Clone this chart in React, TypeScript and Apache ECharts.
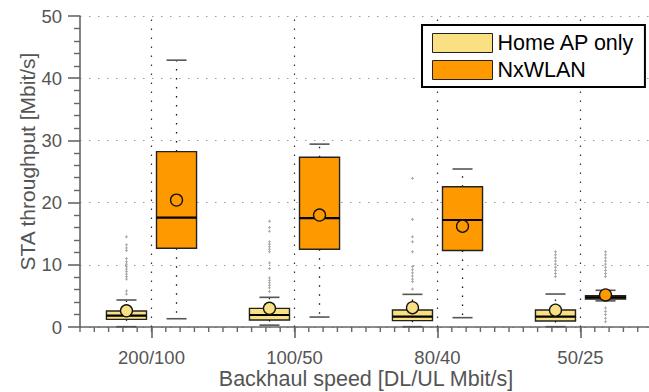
import React, { useEffect, useRef } from "react";
import * as echarts from "echarts";

const categories = ["200/100", "100/50", "80/40", "50/25"];
const seriesNames = ["Home AP only", "NxWLAN"];
const seriesColors = ["#f8e083", "#ff9900"];
const xTitle = "Backhaul speed [DL/UL Mbit/s]";
const yTitle = "STA throughput [Mbit/s]";

// [min, q1, median, q3, max, mean]
const homeStats = [
  [0.05, 1.23, 1.82, 2.57, 4.34, 2.6],
  [0.3, 1.13, 1.93, 3.0, 4.77, 3.0],
  [0.05, 1.02, 1.66, 2.73, 5.25, 3.1],
  [0.05, 0.96, 1.66, 2.73, 5.3, 2.7],
];
const nxStats = [
  [1.33, 12.65, 17.6, 28.2, 42.9, 20.4],
  [1.6, 12.5, 17.5, 27.3, 29.4, 18.0],
  [1.5, 12.3, 17.2, 22.55, 25.4, 16.2],
  [4.2, 4.5, 4.77, 5.03, 5.9, 5.15],
];
const homeOutliers = [
  [14.5, 13.2, 12.7, 12.3, 11.0, 10.5, 10.1, 9.7, 9.3, 8.9, 8.5, 8.1, 7.7, 5.8, 5.3],
  [17.0, 16.0, 15.4, 13.7, 13.3, 12.9, 12.5, 12.1, 10.3, 9.4, 7.9, 7.5, 7.1, 6.7, 6.3, 5.7],
  [23.9, 17.3, 14.5, 13.7, 12.1, 9.7, 9.2, 8.7, 8.2, 7.7, 7.3, 6.1],
  [12.1, 11.6, 11.1, 10.6, 10.1, 9.6, 9.1, 8.6, 8.1],
];
const nxOutliers = [
  [],
  [],
  [],
  [12.1, 11.6, 11.1, 10.6, 10.1, 9.6, 9.1, 8.6, 8.1, 3.05, 2.5, 2.0, 1.4, 0.85],
];
const yTicks = [0, 10, 20, 30, 40, 50];
const minorTicksPerCategory = 10;

const FONT = "'Liberation Sans', Arial, Helvetica, sans-serif";
const OFFSETS = [-0.175, 0.175];

function boxRenderer(offsetFrac: number, color: string) {
  return (params: any, api: any) => {
    const cat = api.value(0);
    const band = api.size([1, 0])[0];
    const cx = api.coord([cat, 0])[0] + offsetFrac * band;
    const y = (v: number) => api.coord([cat, v])[1];
    const w = band * 0.28;
    const cw = band * 0.14;
    const mn = api.value(1), q1 = api.value(2), md = api.value(3), q3 = api.value(4), mx = api.value(5), mean = api.value(6);
    const dotted = { stroke: "#111", lineWidth: 1.3, lineDash: [1.5, 7.5] };
    const cap = { stroke: "#555", lineWidth: 1.6 };
    return {
      type: "group",
      children: [
        { type: "line", shape: { x1: cx, y1: y(q3), x2: cx, y2: y(mx) }, style: dotted },
        { type: "line", shape: { x1: cx, y1: y(q1), x2: cx, y2: y(mn) }, style: dotted },
        { type: "line", shape: { x1: cx - cw / 2, y1: y(mx), x2: cx + cw / 2, y2: y(mx) }, style: cap },
        { type: "line", shape: { x1: cx - cw / 2, y1: y(mn), x2: cx + cw / 2, y2: y(mn) }, style: cap },
        {
          type: "rect",
          shape: { x: cx - w / 2, y: y(q3), width: w, height: y(q1) - y(q3) },
          style: { fill: color, stroke: "#222", lineWidth: 1.4 },
        },
        { type: "line", shape: { x1: cx - w / 2, y1: y(md), x2: cx + w / 2, y2: y(md) }, style: { stroke: "#000", lineWidth: 2.2 } },
        { type: "circle", shape: { cx: cx, cy: y(mean), r: 6 }, style: { fill: color, stroke: "#111", lineWidth: 1.3 } },
      ],
    };
  };
}

function outlierRenderer(params: any, api: any) {
  const cat = api.value(0);
  const s = api.value(2);
  const band = api.size([1, 0])[0];
  const p = api.coord([cat, api.value(1)]);
  const cx = p[0] + OFFSETS[s] * band;
  const cy = p[1];
  const st = { stroke: "#aaaaaa", lineWidth: 1 };
  return {
    type: "group",
    children: [
      { type: "line", shape: { x1: cx - 1.5, y1: cy, x2: cx + 1.5, y2: cy }, style: st },
      { type: "line", shape: { x1: cx, y1: cy - 1.5, x2: cx, y2: cy + 1.5 }, style: st },
    ],
  };
}

function minorTickRenderer(params: any, api: any) {
  const cat = api.value(0);
  const band = api.size([1, 0])[0];
  const p = api.coord([cat, api.value(1)]);
  const left = p[0] - band / 2;
  const children: any[] = [];
  const last = cat === categories.length - 1;
  const n = minorTicksPerCategory + (last ? 1 : 0);
  for (let k = 0; k < n; k++) {
    const x = left + (k * band) / minorTicksPerCategory;
    children.push({
      type: "line",
      shape: { x1: x, y1: p[1], x2: x, y2: p[1] + 5 },
      style: { stroke: "#666", lineWidth: 1.4 },
    });
  }
  return { type: "group", children };
}

export default function App() {
  const ref = useRef<HTMLDivElement>(null);
  useEffect(() => {
    if (!ref.current) return;
    const chart = echarts.init(ref.current, null, { renderer: "svg" });
    const statsList = [homeStats, nxStats];
    const outlierData: number[][] = [];
    [homeOutliers, nxOutliers].forEach((arr, s) =>
      arr.forEach((vals, i) => vals.forEach((v) => outlierData.push([i, v, s])))
    );
    const option: any = {
      animation: false,
      textStyle: { fontFamily: FONT },
      grid: { left: 80, top: 16, width: 572, height: 311, containLabel: false, outerBoundsMode: "none" },
      legend: {
        data: seriesNames.map((n, i) => ({
          name: n,
          icon: "rect",
          itemStyle: { color: seriesColors[i], borderColor: "#222", borderWidth: 1 },
        })),
        orient: "vertical",
        left: 422,
        top: 25,
        itemWidth: 60,
        itemHeight: 19,
        itemGap: 5,
        padding: [7, 10, 6, 10],
        borderColor: "#000",
        borderWidth: 2,
        borderRadius: 0,
        backgroundColor: "#fff",
        selectedMode: false,
        textStyle: { fontSize: 21.5, color: "#000", fontFamily: FONT },
        z: 10,
      },
      xAxis: {
        type: "category",
        data: categories,
        boundaryGap: true,
        axisLine: { show: true, lineStyle: { color: "#666", width: 1.6 } },
        axisTick: { show: true, alignWithLabel: true, length: 11, lineStyle: { color: "#666", width: 1.6 } },
        axisLabel: { fontSize: 18.5, color: "#555", margin: 21, fontFamily: FONT },
        splitLine: { show: false },
      },
      yAxis: {
        type: "value",
        min: yTicks[0],
        max: yTicks[yTicks.length - 1],
        interval: yTicks[1] - yTicks[0],
        axisLine: { show: true, lineStyle: { color: "#666", width: 1.6 } },
        axisTick: { show: true, length: 12, lineStyle: { color: "#666", width: 1.6 } },
        minorTick: { show: true, splitNumber: 5, length: 6, lineStyle: { color: "#666", width: 1.4 } },
        axisLabel: { fontSize: 18.5, color: "#555", margin: 18, fontFamily: FONT },
        splitLine: { show: true, lineStyle: { color: "#9a9a9a", width: 1.2, type: [1.5, 7.5] } },
      },
      graphic: [
        {
          type: "text",
          x: 27,
          y: 161.5,
          rotation: Math.PI / 2,
          style: {
            text: yTitle,
            fontSize: 21,
            fontFamily: FONT,
            fill: "#555",
            align: "center",
            verticalAlign: "middle",
            textAlign: "center",
            textVerticalAlign: "middle",
          },
        },
        {
          type: "text",
          x: 366,
          y: 379,
          style: {
            text: xTitle,
            fontSize: 21.5,
            fontFamily: FONT,
            fill: "#555",
            align: "center",
            verticalAlign: "middle",
            textAlign: "center",
            textVerticalAlign: "middle",
          },
        },
      ],
      series: [
        {
          name: "minorTicks",
          type: "custom",
          renderItem: minorTickRenderer,
          data: categories.map((c, i) => [i, yTicks[0]]),
          encode: { x: 0, y: 1 },
          clip: false,
          silent: true,
          z: 1,
        },
        {
          name: "outliers",
          type: "custom",
          renderItem: outlierRenderer,
          data: outlierData,
          encode: { x: 0, y: 1 },
          z: 2,
          silent: true,
          markLine: {
            silent: true,
            symbol: "none",
            label: { show: false },
            lineStyle: { color: "#333", width: 1.2, type: [1.5, 7.5] },
            data: categories.map((c) => ({ xAxis: c })),
          },
        },
        ...seriesNames.map((n, s) => ({
          name: n,
          type: "custom",
          itemStyle: { color: seriesColors[s] },
          renderItem: boxRenderer(OFFSETS[s], seriesColors[s]),
          data: statsList[s].map((st, i) => [i, ...st]),
          encode: { x: 0, y: [1, 2, 3, 4, 5, 6] },
          z: 3,
        })),
      ],
    };
    chart.setOption(option);
    return () => chart.dispose();
  }, []);
  return (
    <div
      ref={ref}
      style={{ position: "absolute", left: 0, top: 0, width: 649, height: 392, background: "#fff" }}
    />
  );
}
